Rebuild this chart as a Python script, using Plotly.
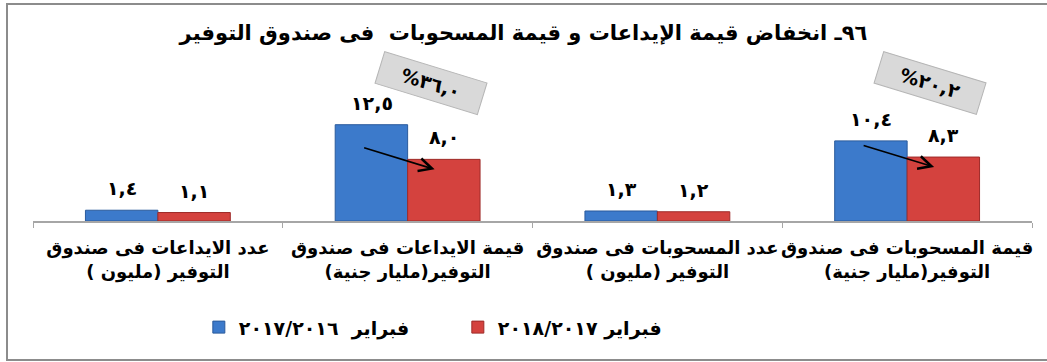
import plotly.graph_objects as go

RLM = "\u200F"

categories = [
    "عدد الايداعات فى صندوق<br>التوفير (مليون )",
    "قيمة الايداعات فى صندوق<br>التوفير(مليار جنية)",
    "عدد المسحوبات فى صندوق<br>التوفير (مليون )",
    "قيمة المسحوبات فى صندوق<br>التوفير(مليار جنية)",
]
series_names = ["فبراير  ٢٠١٧/٢٠١٦", "فبراير ٢٠١٨/٢٠١٧"]
values_2016_2017 = [1.4, 12.5, 1.3, 10.4]
values_2017_2018 = [1.1, 8.0, 1.2, 8.3]
labels_2016_2017 = ["١,٤", "١٢,٥", "١,٣", "١٠,٤"]
labels_2017_2018 = ["١,١", "٨,٠", "١,٢", "٨,٣"]
decline_categories = [1, 3]
decline_labels = ["%٣٦,٠", "%٢٠,٢"]
title_text = "٩٦ـ انخفاض قيمة الإيداعات و قيمة المسحوبات  فى صندوق التوفير"

FONT = "DejaVu Sans"
BLUE = "#3C7ACB"
BLUE_LINE = "#2A5A9C"
RED = "#D4423E"
RED_LINE = "#9E2B28"

cat_keys = [f"c{i}" for i in range(len(categories))]

fig = go.Figure()
fig.add_trace(go.Bar(x=cat_keys, y=values_2016_2017, name=RLM + series_names[0] + RLM,
                     marker=dict(color=BLUE, line=dict(color=BLUE_LINE, width=1))))
fig.add_trace(go.Bar(x=cat_keys, y=values_2017_2018, name=RLM + series_names[1] + RLM,
                     marker=dict(color=RED, line=dict(color=RED_LINE, width=1))))

annotations = []
BAR_OFF = 36
for i, k in enumerate(cat_keys):
    annotations.append(dict(x=k, y=values_2016_2017[i], xref="x", yref="y", text=labels_2016_2017[i],
                            showarrow=False, xshift=-BAR_OFF, yshift=9, yanchor="bottom",
                            font=dict(family=FONT, size=19, color="black", weight="bold")))
    annotations.append(dict(x=k, y=values_2017_2018[i], xref="x", yref="y", text=labels_2017_2018[i],
                            showarrow=False, xshift=BAR_OFF, yshift=9, yanchor="bottom",
                            font=dict(family=FONT, size=19, color="black", weight="bold")))

for idx, lab in zip(decline_categories, decline_labels):
    k = cat_keys[idx]
    annotations.append(dict(x=k, y=values_2017_2018[idx], xref="x", yref="y", text="",
                            showarrow=True, xshift=27, yshift=-10, ax=-72, ay=-22,
                            arrowhead=5, arrowsize=1.6, arrowwidth=1.6, arrowcolor="black"))
    annotations.append(dict(x=k, y=17.9, xref="x", yref="y", text=lab,
                            showarrow=False, xshift=23, textangle=17,
                            width=100, height=26, bgcolor="#D9D9D9", bordercolor="#B5B5B5",
                            borderwidth=1, borderpad=3, align="center", valign="middle",
                            font=dict(family=FONT, size=19, color="black", weight="bold")))

fig.update_layout(
    width=1047, height=362,
    margin=dict(l=33, r=15, t=60, b=141),
    paper_bgcolor="white", plot_bgcolor="white",
    barmode="group", bargap=0.42, bargroupgap=0,
    title=dict(text=title_text, x=0.5, xref="container", y=1 - 33 / 362, yref="container",
               xanchor="center", yanchor="middle",
               font=dict(family=FONT, size=21, color="black", weight="bold")),
    legend=dict(orientation="h", x=0.166, y=-0.66, xanchor="left", yanchor="middle",
                entrywidth=214, entrywidthmode="pixels",
                font=dict(family=FONT, size=19, color="black", weight="bold"),
                bgcolor="rgba(0,0,0,0)"),
    annotations=annotations,
    shapes=[dict(type="rect", xref="paper", yref="paper", x0=-26 / 999, x1=1.02,
                 y0=(221 - 360) / 161, y1=(221 - 4) / 161,
                 line=dict(color="#8C8C8C", width=2), fillcolor="rgba(0,0,0,0)", layer="below")],
)
fig.update_xaxes(tickmode="array", tickvals=cat_keys,
                 ticktext=[RLM + c.replace("<br>", RLM + "<br>" + RLM) + RLM for c in categories],
                 showline=True, linecolor="#A6A6A6", linewidth=1.5,
                 ticks="outside", tickson="boundaries", ticklen=5, tickcolor="#A6A6A6",
                 ticklabelstandoff=10, automargin=False, tickangle=0,
                 tickfont=dict(family=FONT, size=18, color="black", weight="bold"),
                 showgrid=False, zeroline=False, fixedrange=True)
fig.update_yaxes(range=[0, 20.9], visible=False, showgrid=False, zeroline=False, fixedrange=True)

fig.write_html("out.html", config={"displayModeBar": False},
               post_script="document.body.style.margin='0';document.body.style.overflow='hidden';")
